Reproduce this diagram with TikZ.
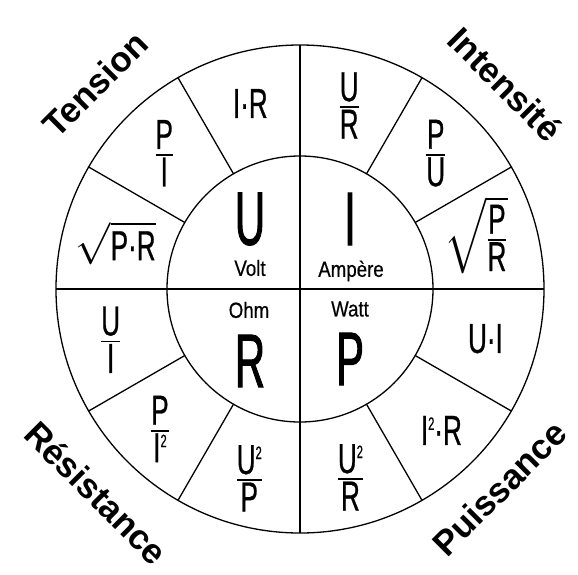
\documentclass[tikz,border=0pt]{standalone}
\usepackage{fontspec}
\usepackage{unicode-math}
\setmainfont{Liberation Sans}
\setmathfont{Latin Modern Math}
\newfontfamily\condfont[FakeStretch=0.62, FakeBold=0.6]{Liberation Sans}
\newfontfamily\bigfont[FakeStretch=0.55, FakeBold=1.2]{Liberation Sans}
\newfontfamily\unitfont[FakeStretch=0.85, FakeBold=0.5]{Liberation Sans}
\usetikzlibrary{positioning,calc}

\newcommand{\frc}[2]{$\frac{\hbox{#1}}{\hbox{#2}}$}
\newcommand{\sq}{\raisebox{15pt}{\fontsize{18}{18}\selectfont 2}}

\tikzset{
  ring/.style={line width=1.3pt},
  formula/.style={font=\condfont\fontsize{42}{46}\selectfont, inner sep=0pt},
  bigletter/.style={font=\bigfont\fontsize{76}{80}\selectfont, inner sep=0pt},
  unitname/.style={font=\unitfont\fontsize{22}{24}\selectfont, inner sep=0pt},
  quantity/.style={font=\bfseries\fontsize{35}{40}\selectfont, inner sep=0pt},
}

\begin{document}
\begin{tikzpicture}[x=1pt, y=1pt]
  \useasboundingbox (-300,-285) rectangle (278,289);
  \coordinate (c) at (0,0);

  % Circles and the two diameters
  \draw[ring] (c) circle (244pt);
  \draw[ring] (c) circle (133pt);
  \draw[ring] (180:244) -- (0:244);
  \draw[ring] (90:244) -- (270:244);

  % Dividers of the outer ring (every 30 degrees)
  \draw[ring] (30:133) -- (30:244);
  \draw[ring] (60:133) -- (60:244);
  \draw[ring] (120:133) -- (120:244);
  \draw[ring] (150:133) -- (150:244);
  \draw[ring] (210:133) -- (210:244);
  \draw[ring] (240:133) -- (240:244);
  \draw[ring] (300:133) -- (300:244);
  \draw[ring] (330:133) -- (330:244);

  % Inner disc: the four quantities
  \node[bigletter] (U) at (-50,70) {U};
  \node[bigletter] (I) at (50,70) {I};
  \node[bigletter] (R) at (-50,-72) {R};
  \node[bigletter] (P) at (50,-70) {P};
  \node[unitname] (volt) at (-50,21) {Volt};
  \node[unitname] (ampere) at (51,18) {Ampère};
  \node[unitname] (ohm) at (-51,-21) {Ohm};
  \node[unitname] (watt) at (50,-20) {Watt};

  % Outer ring: formulas
  \node[formula] (ir) at (105:192) {I·R};
  \node[formula] (pi) at (135:192) {\frc{P}{I}};
  \node[formula] (sqpr) at (166:190) {$\sqrt{\hbox{P·R}}$};
  \node[formula] (ur) at (75:190) {\frc{U}{R}};
  \node[formula] (pu) at (45:192) {\frc{P}{U}};
  \node[formula] (sqpdr) at (17:184) {$\sqrt{\frac{\hbox{P}}{\hbox{R}}}$};
  \node[formula] (ui) at (-15:192) {U·I};
  \node[formula] (iir) at (-45:200) {I\sq·R};
  \node[formula] (uur) at (-75:195) {\frc{U\sq}{R}};
  \node[formula] (uup) at (-105:196) {\frc{U\sq}{P}};
  \node[formula] (pii) at (-135:198) {\frc{P}{I\sq}};
  \node[formula] (udi) at (-165:196) {\frc{U}{I}};

  % Names round the wheel
  \node[quantity, rotate=45] (tension) at (135:290) {Tension};
  \node[quantity, rotate=-45] (intensite) at (45:290) {Intensité};
  \node[quantity, rotate=-45] (resistance) at (225:288) {Résistance};
  \node[quantity, rotate=45] (puissance) at (-45:282) {Puissance};
\end{tikzpicture}
\end{document}
